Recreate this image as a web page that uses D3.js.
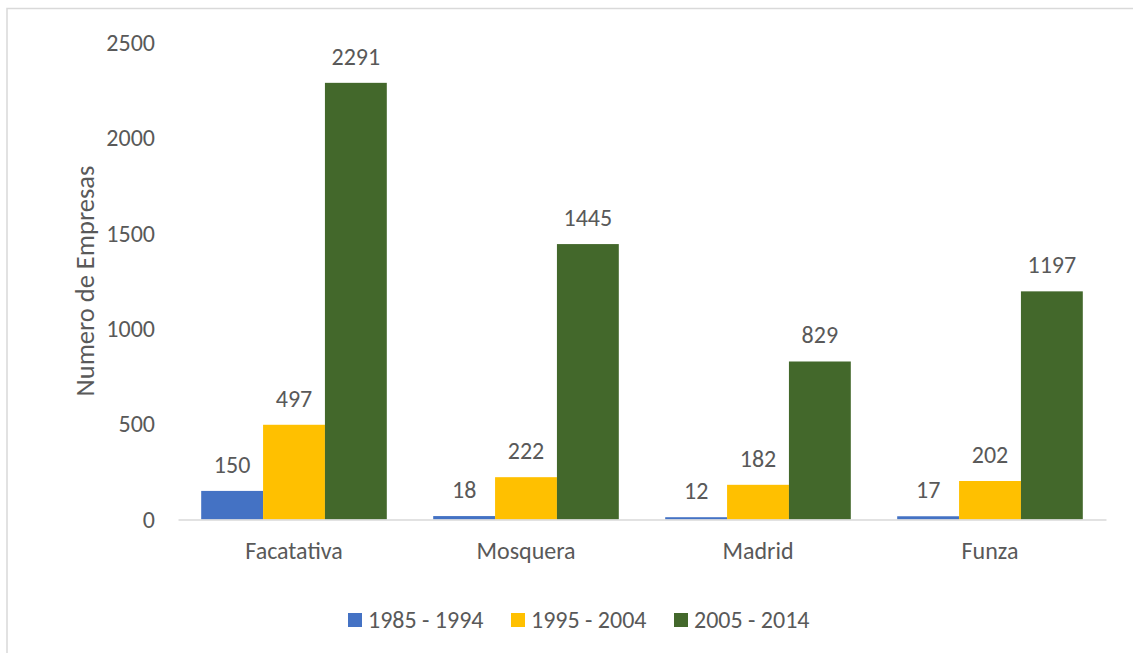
<!DOCTYPE html>
<html>
<head>
<meta charset="utf-8">
<script src="https://cdn.jsdelivr.net/npm/d3@7"></script>
<style>
  body { margin: 0; background: #fff; }
  text { font-family: Carlito, Calibri, "Liberation Sans", Arial, sans-serif; fill: #595959; }
</style>
</head>
<body>
<div id="chart"></div>
<script>
// data
var municipios = ["Facatativa", "Mosquera", "Madrid", "Funza"]
var periodos = ["1985 - 1994", "1995 - 2004", "2005 - 2014"]
var empresas1985 = [150, 18, 12, 17]
var empresas1995 = [497, 222, 182, 202]
var empresas2005 = [2291, 1445, 829, 1197]
var yTicks = [0, 500, 1000, 1500, 2000, 2500]

var series = [empresas1985, empresas1995, empresas2005]
var colors = d3.scaleOrdinal().domain(periodos).range(["#4472C4", "#FFC000", "#43682B"])

var width = 1133, height = 653

var svg = d3.select("#chart")
  .append("svg")
  .attr("width", width)
  .attr("height", height)

// chart border (runs off the right and bottom edges)
svg.append("rect")
  .attr("x", 7)
  .attr("y", 8.5)
  .attr("width", 1140)
  .attr("height", 660)
  .attr("fill", "none")
  .attr("stroke", "#d9d9d9")
  .attr("stroke-width", 1.5)

var x0 = d3.scaleBand()
  .domain(municipios)
  .range([178, 1106])
  .paddingInner(0.2)
  .paddingOuter(0.1)

var x1 = d3.scaleBand()
  .domain(periodos)
  .range([0, x0.bandwidth()])

var y = d3.scaleLinear()
  .domain([0, 2500])
  .range([519.5, 43])

// y tick labels, no axis line
var yAxis = svg.append("g")
  .attr("transform", "translate(178,0)")
  .call(d3.axisLeft(y).tickValues(yTicks).tickFormat(d3.format("d")).tickSize(0).tickPadding(23))
yAxis.select(".domain").remove()
yAxis.selectAll("text")
  .style("font-size", "24px")
  .attr("fill", "#595959")
  .attr("font-family", null)

// bars
var groups = svg.selectAll(".grupo")
  .data(municipios)
  .enter()
  .append("g")
  .attr("class", "grupo")
  .attr("transform", function (d) {
    return "translate(" + x0(d) + ",0)"
  })

function rows(d, i) {
  return periodos.map(function (p, j) {
    return { periodo: p, value: series[j][i] }
  })
}

groups.selectAll("rect")
  .data(rows)
  .enter()
  .append("rect")
  .attr("x", function (d) { return x1(d.periodo) })
  .attr("y", function (d) { return y(d.value) })
  .attr("width", x1.bandwidth())
  .attr("height", function (d) { return y(0) - y(d.value) })
  .attr("fill", function (d) { return colors(d.periodo) })

groups.selectAll(".valor")
  .data(rows)
  .enter()
  .append("text")
  .attr("class", "valor")
  .attr("x", function (d) { return x1(d.periodo) + x1.bandwidth() / 2 })
  .attr("y", function (d) { return y(d.value) - 18 })
  .attr("text-anchor", "middle")
  .style("font-size", "24px")
  .text(function (d) { return d.value })

// x axis line and category labels
var xAxis = svg.append("g")
  .attr("transform", "translate(0," + y(0) + ")")
  .call(d3.axisBottom(x0).tickSize(0).tickPadding(22).tickSizeOuter(0))
xAxis.select(".domain")
  .attr("stroke", "#d9d9d9")
  .attr("stroke-width", 1.5)
xAxis.selectAll("text")
  .style("font-size", "24px")
  .attr("fill", "#595959")
  .attr("font-family", null)

// axis title
svg.append("text")
  .attr("transform", "translate(94,281) rotate(-90)")
  .attr("text-anchor", "middle")
  .style("font-size", "26.5px")
  .text("Numero de Empresas")

// legend
var legend = svg.selectAll(".leyenda")
  .data(periodos)
  .enter()
  .append("g")
  .attr("class", "leyenda")
  .attr("transform", function (d, i) {
    return "translate(" + (348 + i * 163) + ",613)"
  })

legend.append("rect")
  .attr("width", 14)
  .attr("height", 14)
  .attr("fill", function (d) { return colors(d) })

legend.append("text")
  .attr("x", 20)
  .attr("y", 7)
  .attr("dy", "0.35em")
  .style("font-size", "24px")
  .text(function (d) { return d })
</script>
</body>
</html>
